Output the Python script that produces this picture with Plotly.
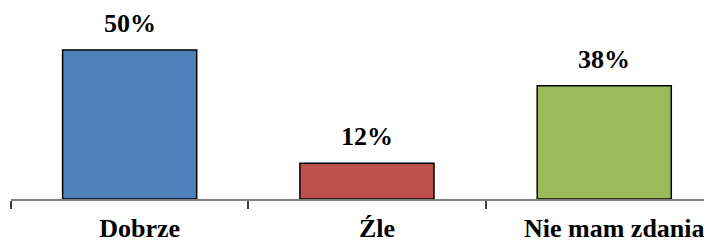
import plotly.graph_objects as go

categories = ["Dobrze", "Źle", "Nie mam zdania"]
values = [50, 12, 38]
labels = ["50%", "12%", "38%"]
colors = ["#4F81BD", "#C0504D", "#9BBB59"]

font_family = "Liberation Serif, Times New Roman, serif"

fig = go.Figure()
fig.add_trace(go.Bar(
    x=categories, y=values,
    marker=dict(color=colors, line=dict(color="#000000", width=1.5)),
    width=0.565,
    hoverinfo="skip",
))

for c, v, t in zip(categories, values, labels):
    fig.add_annotation(x=c, y=v, text="<b>%s</b>" % t, showarrow=False,
                       yanchor="bottom", yshift=10,
                       font=dict(family=font_family, size=26, color="#000000"))

# the page adds an 8px body margin, so the figure is sized to fit the window
fig.update_layout(
    width=704, height=232,
    margin=dict(l=3, r=0, t=0, b=41, autoexpand=False),
    paper_bgcolor="white", plot_bgcolor="white",
    showlegend=False,
    font=dict(family=font_family),
    xaxis=dict(
        type="category", range=[-0.5, 2.454], automargin=False,
        showline=True, linecolor="#808080", linewidth=1.5,
        ticks="outside", tickson="boundaries", ticklen=8, tickcolor="#404040", tickwidth=1.5,
        tickfont=dict(family=font_family, size=26, color="#000000"),
        ticklabelstandoff=5, ticklabelshift=10,
        showgrid=False,
    ),
    yaxis=dict(range=[0, 64.1], visible=False, showgrid=False, automargin=False),
)
fig.update_xaxes(tickvals=categories, ticktext=["<b>%s</b>" % c for c in categories])

fig.write_html("out.html")
